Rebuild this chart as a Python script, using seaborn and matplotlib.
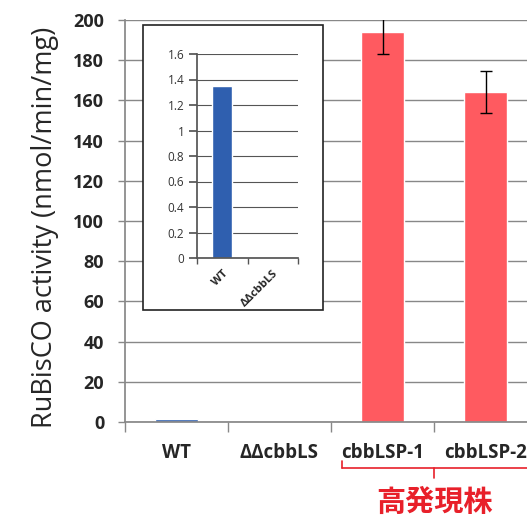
import matplotlib
matplotlib.use("Agg")
import matplotlib.pyplot as plt
import seaborn as sns
import pandas as pd
from matplotlib.patches import Rectangle
from matplotlib.lines import Line2D

categories = ["WT", "ΔΔcbbLS", "cbbLSP-1", "cbbLSP-2"]
activity = [1.35, 0.05, 194, 164]
errors = [0.0, 0.0, 11, 10.5]
y_ticks = [0, 20, 40, 60, 80, 100, 120, 140, 160, 180, 200]

inset_categories = ["WT", "ΔΔcbbLS"]
inset_activity = [1.35, 0.0]
inset_ticks = [0, 0.2, 0.4, 0.6, 0.8, 1, 1.2, 1.4, 1.6]
inset_tick_labels = ["0", "0.2", "0.4", "0.6", "0.8", "1", "1.2", "1.4", "1.6"]

group_label = "高発現株"
ylabel = "RuBisCO activity (nmol/min/mg)"

sns.set_theme(style="white")
plt.rcParams['font.family'] = ['Open Sans', 'DejaVu Sans']

fig = plt.figure(figsize=(5.27, 5.16), dpi=100)
W, H = 527, 516

def fx(px):
    return px / W

def fy(py):
    return 1 - py / H

# main axes
ax = fig.add_axes([fx(125), fy(422), fx(537) - fx(125), fy(20) - fy(422)])
df = pd.DataFrame({"cat": categories, "val": activity})
colors = ["#2F5FAF", "#555555", "#FF5A60", "#FF5A60"]
sns.barplot(data=df, x="cat", y="val", hue="cat", palette=colors, legend=False,
            width=0.41, ax=ax, saturation=1)
ax.errorbar([2, 3], activity[2:], yerr=errors[2:], fmt="none", ecolor="black",
            elinewidth=1, capsize=4, capthick=1, clip_on=True)
ax.set_ylim(0, 200)
ax.set_xlim(-0.5, 3.5)
ax.set_yticks(y_ticks)
ax.set_yticklabels([str(t) for t in y_ticks], fontsize=13, fontweight="bold")
ax.yaxis.grid(True, color="#888888", linewidth=1)
ax.set_axisbelow(True)
ax.set_xlabel("")
ax.set_ylabel(ylabel, fontsize=19.5, va="center")
ax.yaxis.set_label_coords(-0.194, 0.483)
ax.set_xticks(range(4))
ax.set_xticklabels(categories, fontsize=13.5, fontweight="bold")
ax.tick_params(axis="x", length=0, pad=15)
ax.tick_params(axis="y", length=5, color="#888888", width=1, left=True, pad=10)
for s in ["top", "right"]:
    ax.spines[s].set_visible(False)
ax.spines["left"].set_color("#888888")
ax.spines["bottom"].set_color("#888888")
# minor ticks at category boundaries
ax.set_xticks([-0.5, 0.5, 1.5, 2.5, 3.5], minor=True)
ax.tick_params(axis="x", which="minor", length=7, color="#888888", width=1, bottom=True)

# bracket under cbbLSP-1 and cbbLSP-2
red = "#E8202A"
bx0, bx1, bm = fx(342), fx(527), fx(434)
by = fy(468)
fig.add_artist(Line2D([bx0, bx1], [by, by], color=red, lw=1.2))
fig.add_artist(Line2D([bx0, bx0], [by, fy(461)], color=red, lw=1.2))
fig.add_artist(Line2D([bm, bm], [by, fy(478)], color=red, lw=1.2))
fig.text(bm, fy(502), group_label, color=red, fontsize=21, fontweight="bold",
         ha="center", va="center", family=["Noto Sans CJK JP", "DejaVu Sans"])

# inset frame
fig.add_artist(Rectangle((fx(143), fy(310)), fx(323) - fx(143), fy(25) - fy(310),
                         transform=fig.transFigure, facecolor="white",
                         edgecolor="#222222", lw=1.2, zorder=3))
iax = fig.add_axes([fx(197), fy(258), fx(298) - fx(197), fy(54) - fy(258)], zorder=4)
idf = pd.DataFrame({"cat": inset_categories, "val": inset_activity})
sns.barplot(data=idf, x="cat", y="val", color="#2F5FAF", saturation=1,
            width=0.4, ax=iax)
iax.set_facecolor("white")
iax.set_ylim(0, 1.6)
iax.set_xlim(-0.5, 1.5)
iax.set_yticks(inset_ticks)
iax.set_yticklabels(inset_tick_labels, fontsize=8.5, color="#333333")
iax.yaxis.grid(True, color="#555555", linewidth=0.8)
iax.set_axisbelow(True)
iax.set_xlabel("")
iax.set_ylabel("")
iax.set_xticks(range(2))
iax.set_xticklabels(inset_categories, rotation=45, ha="right", rotation_mode="anchor",
                    fontsize=8, fontweight="bold")
iax.tick_params(axis="x", length=0, pad=7)
iax.tick_params(axis="y", length=6, color="#555555", left=True, pad=3)
iax.set_xticks([-0.5, 0.5, 1.5], minor=True)
iax.tick_params(axis="x", which="minor", length=4, color="#555555", bottom=True)
for s in ["top", "right"]:
    iax.spines[s].set_visible(False)
iax.spines["left"].set_color("#555555")
iax.spines["bottom"].set_color("#555555")

fig.savefig("out.png", dpi=100)
